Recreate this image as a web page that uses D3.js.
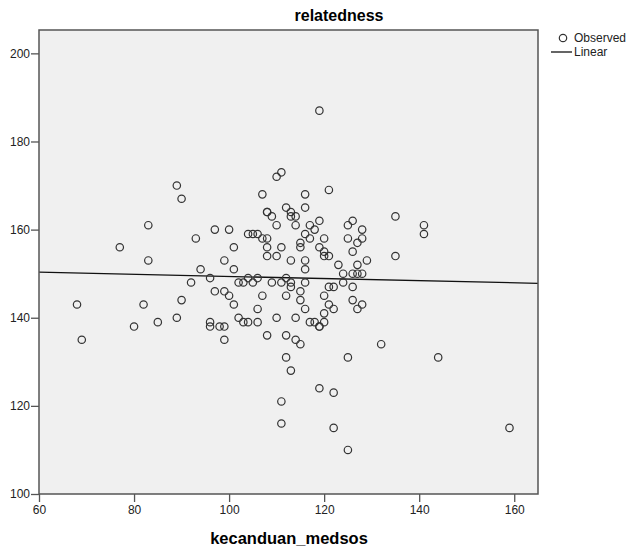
<!DOCTYPE html>
<html>
<head>
<meta charset="utf-8">
<script src="https://cdn.jsdelivr.net/npm/d3@7"></script>
<style>
  body { margin: 0; background: #fff; }
  text { font-family: Arial, "Liberation Sans", sans-serif; }
</style>
</head>
<body>
<svg id="chart" width="634" height="549"></svg>
<script>
"use strict";

// observed values (x = kecanduan_medsos, y = relatedness)
var kecanduanMedsos = [68, 69, 77, 80, 82, 83, 83, 85, 89, 90, 89, 90, 92, 93, 94, 96, 96, 96, 97, 97,
    98, 99, 99, 99, 99, 100, 100, 101, 101, 101, 102, 103, 104, 105, 106, 102, 103, 104, 106, 104,
    105, 106, 106, 107, 108, 107, 107, 108, 108, 109, 108, 108, 110, 110, 110, 111, 111, 109, 111, 110,
    108, 112, 113, 113, 114, 112, 112, 112, 112, 113, 113, 113, 113, 114, 114, 114, 115, 115, 115, 115,
    115, 116, 116, 116, 116, 116, 116, 116, 117, 117, 117, 118, 118, 119, 119, 119, 119, 119, 119, 120,
    120, 120, 120, 120, 120, 121, 121, 121, 121, 122, 122, 122, 122, 123, 124, 124, 125, 125, 125, 125,
    126, 126, 126, 126, 126, 127, 127, 127, 127, 128, 128, 128, 128, 129, 132, 135, 135, 141, 141, 144,
    159, 111, 111];
var relatedness = [143, 135, 156, 138, 143, 161, 153, 139, 170, 167, 140, 144, 148, 158, 151, 149, 139, 138, 160, 146,
    138, 138, 135, 153, 146, 160, 145, 156, 151, 143, 148, 148, 149, 148, 149, 140, 139, 139, 139, 159,
    159, 159, 142, 158, 158, 145, 168, 164, 164, 163, 156, 154, 154, 161, 172, 173, 156, 148, 148, 140,
    136, 165, 164, 163, 163, 149, 145, 136, 131, 153, 148, 147, 128, 161, 140, 135, 157, 156, 146, 144,
    134, 168, 165, 159, 153, 151, 148, 142, 161, 158, 139, 160, 139, 187, 162, 156, 138, 138, 124, 158,
    155, 154, 145, 141, 139, 169, 154, 147, 143, 147, 142, 123, 115, 152, 150, 148, 161, 158, 131, 110,
    162, 155, 150, 147, 144, 157, 152, 150, 142, 160, 158, 150, 143, 153, 134, 163, 154, 161, 159, 131,
    115, 121, 116];

// linear fit (relatedness = intercept + slope * x)
var fitIntercept = 151.77;
var fitSlope = -0.024;

var xTicks = [60, 80, 100, 120, 140, 160];
var yTicks = [100, 120, 140, 160, 180, 200];

var chartTitle = "relatedness";
var xTitle = "kecanduan_medsos";
var legendItems = ["Observed", "Linear"];

var plot = { left: 39, right: 538, top: 30, bottom: 494 };

var svg = d3.select("#chart");

var xScale = d3.scaleLinear().domain([60, 165]).range([plot.left, plot.right]);
var yScale = d3.scaleLinear().domain([100, 205.3]).range([plot.bottom, plot.top]);

var data = kecanduanMedsos.map(function (v, i) { return { x: v, y: relatedness[i] }; });

// plot background
svg.append("rect")
    .attr("x", plot.left).attr("y", plot.top)
    .attr("width", plot.right - plot.left).attr("height", plot.bottom - plot.top)
    .attr("fill", "#f0f0f0");

// axes
var xAxis = svg.append("g")
    .attr("transform", "translate(0," + plot.bottom + ")")
    .call(d3.axisBottom(xScale).tickValues(xTicks).tickSize(8).tickPadding(3));
var yAxis = svg.append("g")
    .attr("transform", "translate(" + plot.left + ",0)")
    .call(d3.axisLeft(yScale).tickValues(yTicks).tickSize(8).tickPadding(1));

[xAxis, yAxis].forEach(function (g) {
    g.select(".domain").remove();
    g.selectAll(".tick line").attr("stroke", "#555").attr("stroke-width", 1.3);
    g.selectAll(".tick text")
        .attr("fill", "#222")
        .style("font-size", "12px")
        .style("font-family", "Arial, 'Liberation Sans', sans-serif");
});

// fit line
var fitLine = d3.line()
    .x(function (d) { return xScale(d); })
    .y(function (d) { return yScale(fitIntercept + fitSlope * d); });

svg.append("path")
    .datum(xScale.domain())
    .attr("d", fitLine)
    .attr("fill", "none")
    .attr("stroke", "#111")
    .attr("stroke-width", 1.3);

// observed points
svg.append("g").selectAll("circle")
    .data(data)
    .enter()
    .append("circle")
    .attr("cx", function (d) { return xScale(d.x); })
    .attr("cy", function (d) { return yScale(d.y); })
    .attr("r", 3.7)
    .attr("fill", "none")
    .attr("stroke", "#333")
    .attr("stroke-width", 1.2);

// frame
svg.append("rect")
    .attr("x", plot.left).attr("y", plot.top)
    .attr("width", plot.right - plot.left).attr("height", plot.bottom - plot.top)
    .attr("fill", "none")
    .attr("stroke", "#555")
    .attr("stroke-width", 1.5);

// titles
svg.append("text")
    .attr("x", 339).attr("y", 21)
    .attr("text-anchor", "middle")
    .style("font-size", "16px").style("font-weight", "bold")
    .text(chartTitle);

svg.append("text")
    .attr("x", 289).attr("y", 544)
    .attr("text-anchor", "middle")
    .style("font-size", "16.5px").style("font-weight", "bold")
    .text(xTitle);

// legend
var legend = svg.append("g");
legend.append("circle")
    .attr("cx", 563).attr("cy", 38).attr("r", 3.7)
    .attr("fill", "none").attr("stroke", "#333").attr("stroke-width", 1.2);
legend.append("line")
    .attr("x1", 551).attr("x2", 572).attr("y1", 52).attr("y2", 52)
    .attr("stroke", "#111").attr("stroke-width", 1.3);
legend.selectAll("text")
    .data(legendItems)
    .enter()
    .append("text")
    .attr("x", 574)
    .attr("y", function (d, i) { return 42 + i * 14; })
    .style("font-size", "12px")
    .attr("fill", "#222")
    .text(function (d) { return d; });
</script>
</body>
</html>
